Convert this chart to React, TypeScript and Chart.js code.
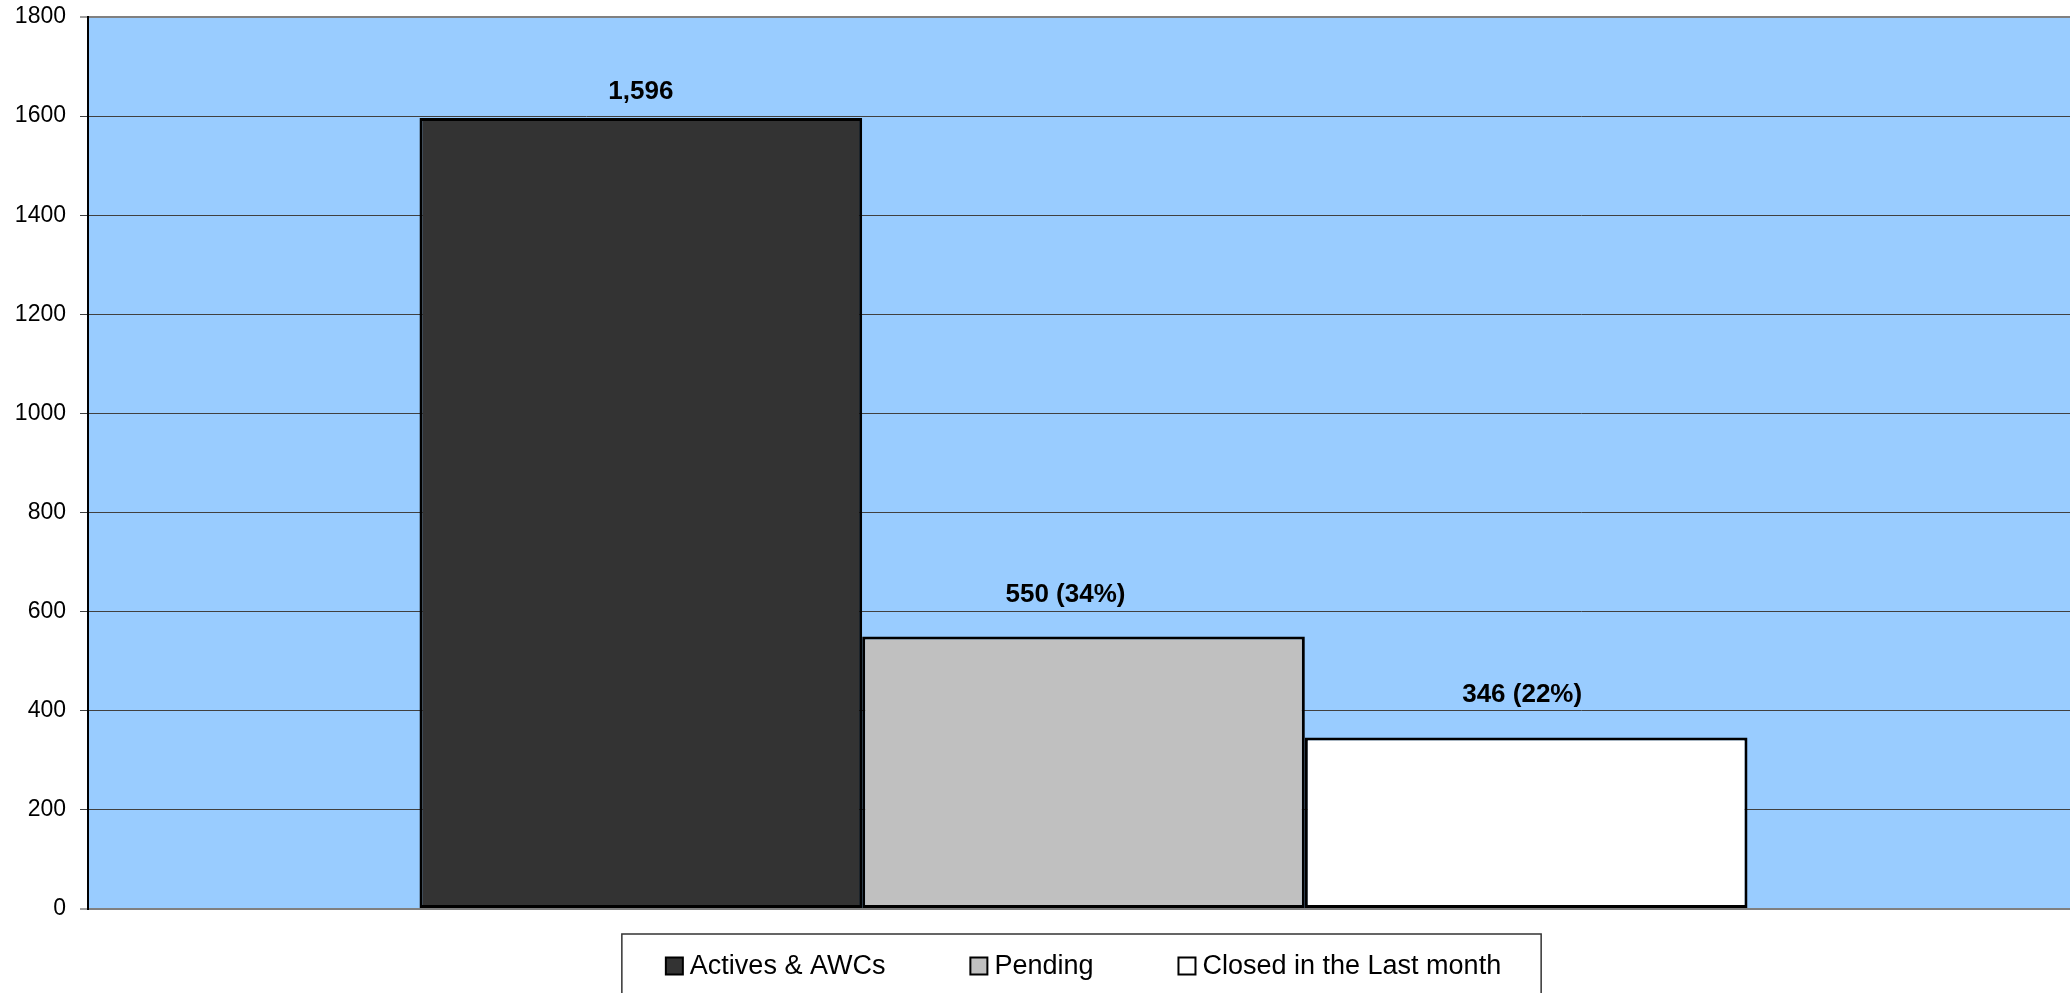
import React, { useEffect, useRef } from "react";
import { Chart, registerables } from "chart.js";

Chart.register(...registerables);

const categories = [""];
const seriesNames = ["Actives & AWCs", "Pending", "Closed in the Last month"];
const activesValues = [1596];
const pendingValues = [550];
const closedValues = [346];
const valueLabels = ["1,596", "550 (34%)", "346 (22%)"];
const yMax = 1800;
const yStep = 200;

const FONT = '"Liberation Sans", Arial, Helvetica, sans-serif';
const labelShift = [
  { dx: 0, dy: 26 },
  { dx: -18, dy: 42 },
  { dx: -4, dy: 43 },
];

const bgPlugin = {
  id: "plotBg",
  beforeDraw(chart: any) {
    const { ctx, chartArea } = chart;
    ctx.save();
    ctx.fillStyle = "#99CCFF";
    ctx.fillRect(chartArea.left, chartArea.top, chartArea.right - chartArea.left, chartArea.bottom - chartArea.top);
    ctx.restore();
  },
};

const valueLabelPlugin = {
  id: "valueLabels",
  afterDatasetsDraw(chart: any) {
    const { ctx } = chart;
    ctx.save();
    ctx.font = `bold 26px ${FONT}`;
    ctx.fillStyle = "#000";
    ctx.textAlign = "center";
    ctx.textBaseline = "middle";
    chart.data.datasets.forEach((ds: any, i: number) => {
      const meta = chart.getDatasetMeta(i);
      const el = meta.data[0];
      if (!el) return;
      const s = labelShift[i] || { dx: 0, dy: 40 };
      ctx.fillText(valueLabels[i], el.x + s.dx, el.y - s.dy);
    });
    ctx.restore();
  },
};

const legendPlugin = {
  id: "boxLegend",
  afterDraw(chart: any) {
    const { ctx, chartArea } = chart;
    const datasets = chart.data.datasets;
    ctx.save();
    ctx.font = `27px ${FONT}`;
    const marker = 17;
    const gapMarkerText = 7;
    const itemGap = 85;
    const widths = datasets.map((d: any) => marker + gapMarkerText + ctx.measureText(d.label).width);
    const total = widths.reduce((a: number, b: number) => a + b, 0) + itemGap * (datasets.length - 1);
    const center = (chartArea.left + chartArea.right) / 2;
    let x = center - total / 2;
    const yMid = 966;
    const boxLeft = x - 44;
    const boxRight = x + total + 40;
    ctx.fillStyle = "#fff";
    ctx.fillRect(boxLeft, 934, boxRight - boxLeft, 80);
    ctx.strokeStyle = "#333";
    ctx.lineWidth = 1.5;
    ctx.strokeRect(boxLeft, 934, boxRight - boxLeft, 80);
    datasets.forEach((d: any, i: number) => {
      ctx.fillStyle = d.backgroundColor;
      ctx.fillRect(x, yMid - marker / 2, marker, marker);
      ctx.strokeStyle = "#000";
      ctx.lineWidth = 2;
      ctx.strokeRect(x, yMid - marker / 2, marker, marker);
      ctx.fillStyle = "#000";
      ctx.textAlign = "left";
      ctx.textBaseline = "middle";
      ctx.fillText(d.label, x + marker + gapMarkerText, yMid + 1);
      x += widths[i] + itemGap;
    });
    ctx.restore();
  },
};

export default function App() {
  const ref = useRef<HTMLCanvasElement | null>(null);
  useEffect(() => {
    if (!ref.current) return;
    const barColors = ["#333333", "#C0C0C0", "#FFFFFF"];
    const values = [activesValues, pendingValues, closedValues];
    const chart = new Chart(ref.current, {
      type: "bar",
      data: {
        labels: categories,
        datasets: seriesNames.map((name, i) => ({
          label: name,
          data: values[i],
          backgroundColor: barColors[i],
          borderColor: "#000000",
          borderWidth: 3,
          borderSkipped: false,
          categoryPercentage: 0.667,
          barPercentage: 1,
        })),
      },
      options: {
        animation: false,
        responsive: false,
        devicePixelRatio: 1,
        layout: { padding: { left: 0, top: 17, right: 3, bottom: 84 } },
        plugins: { legend: { display: false }, tooltip: { enabled: false } },
        scales: {
          x: {
            display: true,
            ticks: { display: false },
            grid: { display: false },
            border: { display: true, color: "#808080", width: 2 },
            afterFit: (s: any) => {
              s.height = 0;
              s.paddingLeft = 0;
              s.paddingRight = 0;
            },
          },
          y: {
            min: 0,
            max: yMax,
            ticks: {
              stepSize: yStep,
              color: "#000",
              padding: 14,
              font: { family: FONT, size: 23 },
              callback: (v: any) => String(v),
            },
            grid: {
              color: (c: any) => (c.tick && (c.tick.value === 0 || c.tick.value === yMax) ? "#808080" : "#404040"),
              lineWidth: (c: any) => (c.tick && (c.tick.value === 0 || c.tick.value === yMax) ? 2 : 1),
              tickLength: 8,
              tickColor: "#404040",
              tickWidth: 1,
            },
            border: { display: true, color: "#000", width: 2 },
            afterFit: (s: any) => {
              s.width = 88;
              s.paddingTop = 0;
              s.paddingBottom = 0;
            },
          },
        },
      },
      plugins: [bgPlugin, valueLabelPlugin, legendPlugin],
    } as any);
    return () => chart.destroy();
  }, []);
  return (
    <div style={{ position: "fixed", left: 0, top: 0, width: 2070, height: 993, overflow: "hidden", background: "#fff" }}>
      <canvas ref={ref} width={2082} height={993} style={{ width: 2082, height: 993, display: "block" }} />
    </div>
  );
}
